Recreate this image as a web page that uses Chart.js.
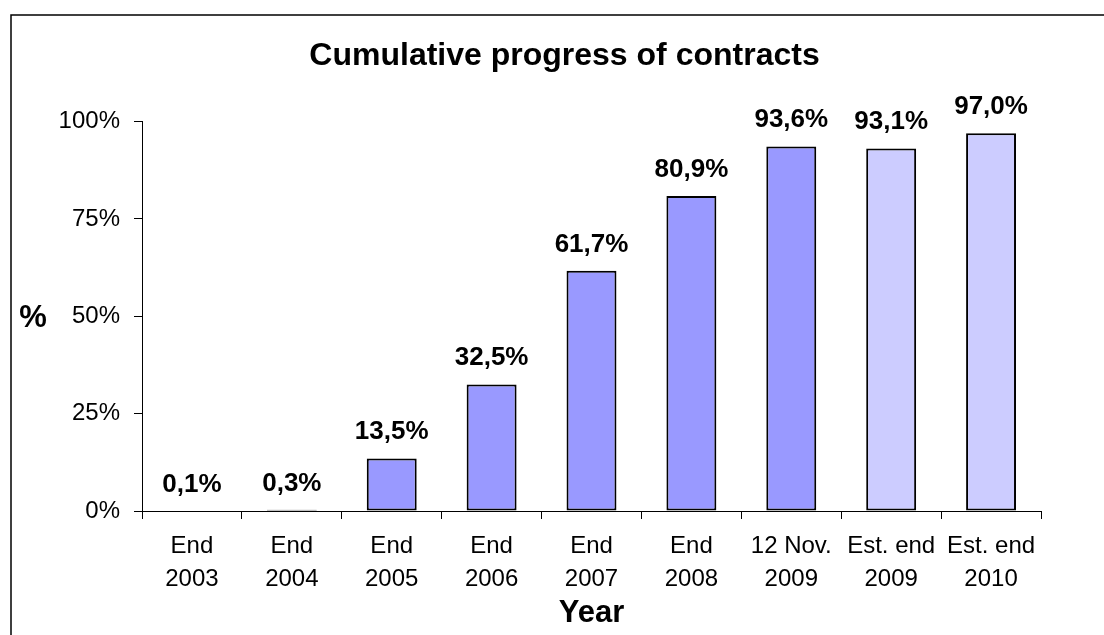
<!DOCTYPE html>
<html><head><meta charset="utf-8">
<script src="https://cdn.jsdelivr.net/npm/chart.js@4"></script>
<style>html,body{margin:0;padding:0;background:#fff}canvas{display:block}</style>
</head><body>
<canvas id="c" width="1104" height="635"></canvas>
<script>
const categories = [["End","2003"],["End","2004"],["End","2005"],["End","2006"],["End","2007"],["End","2008"],["12 Nov.","2009"],["Est. end","2009"],["Est. end","2010"]];
const progress = [0.1, 0.3, 13.5, 32.5, 61.7, 80.9, 93.6, 93.1, 97.0];
const estimated = [false, false, false, false, false, false, false, true, true];
const yTicks = [0, 25, 50, 75, 100];
const titleText = "Cumulative progress of contracts";
const xTitle = "Year";
const yTitle = "%";

const FONT = "Arial, 'Liberation Sans', sans-serif";
const ACTUAL_COLOR = '#9999FF';
const EST_COLOR = '#CCCCFF';

const decorations = {
  id: 'decorations',
  afterLayout(chart) {
    // let the y tick labels use the space to the left of the axis box
    chart.scales.y.left = 0;
  },
  beforeDraw(chart) {
    const ctx = chart.ctx;
    ctx.save();
    ctx.fillStyle = '#fff';
    ctx.fillRect(0, 0, chart.width, chart.height);
    ctx.strokeStyle = '#000';
    ctx.lineWidth = 1.5;
    ctx.beginPath();
    ctx.moveTo(11, chart.height);
    ctx.lineTo(11, 15);
    ctx.lineTo(chart.width, 15);
    ctx.stroke();
    ctx.restore();
  },
  afterDatasetsDraw(chart) {
    const ctx = chart.ctx;
    const meta = chart.getDatasetMeta(0);
    ctx.save();
    ctx.fillStyle = '#000';
    ctx.textAlign = 'center';
    ctx.textBaseline = 'alphabetic';
    ctx.font = 'bold 26px ' + FONT;
    meta.data.forEach((bar, i) => {
      const label = progress[i].toFixed(1).replace('.', ',') + '%';
      ctx.fillText(label, bar.x, bar.y - 19);
    });
    ctx.font = 'bold 31px ' + FONT;
    ctx.textBaseline = 'middle';
    ctx.fillText(yTitle, 33, 318);
    ctx.restore();
  }
};

const axisGrid = {display: true, drawOnChartArea: false, drawTicks: true, tickLength: 8, color: '#000', lineWidth: 1};
const axisBorder = {display: true, color: '#000', width: 1};

new Chart(document.getElementById('c'), {
  type: 'bar',
  data: {
    labels: categories,
    datasets: [{
      data: progress,
      backgroundColor: progress.map((v, i) => estimated[i] ? EST_COLOR : ACTUAL_COLOR),
      borderColor: '#000',
      borderWidth: 2,
      borderSkipped: false,
      barPercentage: 0.5,
      categoryPercentage: 1.0
    }]
  },
  options: {
    responsive: false,
    animation: false,
    layout: {padding: {left: 88, right: 63, top: 0, bottom: 0}},
    plugins: {
      legend: {display: false},
      tooltip: {enabled: false},
      title: {
        display: true,
        text: titleText,
        color: '#000',
        font: {family: FONT, size: 32, weight: 'bold', lineHeight: 1.2},
        padding: {top: 37, bottom: 46.1}
      }
    },
    scales: {
      x: {
        grid: Object.assign({offset: true}, axisGrid),
        border: axisBorder,
        ticks: {color: '#000', font: {family: FONT, size: 24, lineHeight: 1.375}, padding: 11, maxRotation: 0, autoSkip: false},
        title: {display: true, text: xTitle, color: '#000', font: {family: FONT, size: 31, weight: 'bold', lineHeight: 1.2}, padding: {top: 0, bottom: 3}},
        afterFit(s) { s.height = 124; }
      },
      y: {
        min: 0,
        max: 100,
        grid: axisGrid,
        border: axisBorder,
        ticks: {color: '#000', font: {family: FONT, size: 24}, padding: 14, callback: v => v + '%'},
        afterBuildTicks(s) { s.ticks = yTicks.map(v => ({value: v})); },
        afterFit(s) { s.width = 54; }
      }
    }
  },
  plugins: [decorations]
});
</script>
</body></html>
